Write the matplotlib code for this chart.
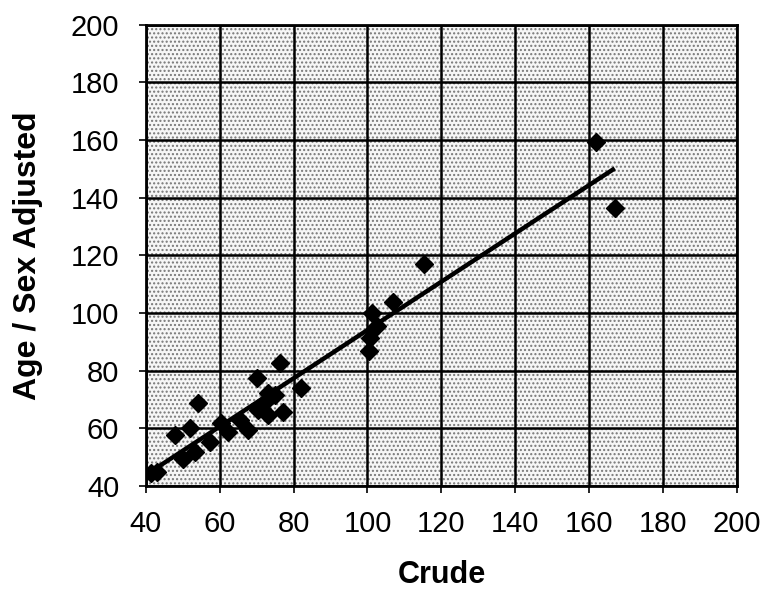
import numpy as np
import matplotlib.pyplot as plt

plt.rcParams["font.family"] = ["Liberation Sans", "DejaVu Sans"]
plt.rcParams["hatch.linewidth"] = 1.0

# crude vs age/sex adjusted rates
crude = [41.5, 43.0, 47.8, 50.1, 51.9, 53.3, 54.1, 57.3, 60.5, 62.3,
         65.4, 67.7, 70.4, 70.0, 72.7, 73.1, 73.1, 74.9, 76.3, 77.2,
         82.1, 100.3, 100.6, 101.1, 102.5, 106.8, 115.4, 161.7, 166.9]
adjusted = [44.5, 45.0, 57.7, 49.3, 60.0, 51.9, 68.8, 55.4, 61.8, 58.9,
            62.9, 59.4, 66.4, 77.4, 69.9, 72.2, 64.7, 71.5, 82.6, 65.8,
            73.9, 87.0, 91.5, 100.0, 95.5, 104.0, 117.0, 159.5, 136.5]

ticks = [40, 60, 80, 100, 120, 140, 160, 180, 200]

x = np.array(crude)
y = np.array(adjusted)
slope, intercept = np.polyfit(x, y, 1)
xs = np.array([x.min(), x.max()])

fig = plt.figure(figsize=(7.63, 5.90), dpi=100)
ax = fig.add_axes([0.191, 0.176, 0.775, 0.782])
ax.set_facecolor("white")

# stippled plot area
ax.add_patch(plt.Rectangle((0, 0), 1, 1, transform=ax.transAxes,
                           facecolor="#f6f6f6", edgecolor="#777777",
                           hatch="....", linewidth=0, zorder=0))

ax.plot(xs, slope * xs + intercept, color="black", lw=3.2, zorder=3,
        solid_capstyle="butt")
ax.plot(x, y, linestyle="none", marker="D", markersize=9,
        color="black", zorder=4)

ax.set_xlim(40, 200)
ax.set_ylim(40, 200)
ax.set_xticks(ticks)
ax.set_yticks(ticks)
ax.grid(True, color="black", lw=1.8, zorder=1)
ax.set_axisbelow(True)
for sp in ax.spines.values():
    sp.set_linewidth(2)
    sp.set_zorder(5)

ax.tick_params(axis="both", labelsize=21, length=5, width=1.2,
               direction="out")
ax.tick_params(axis="x", pad=12)
ax.tick_params(axis="y", pad=14)
ax.set_xlabel("Crude", fontsize=22, fontweight="bold", labelpad=16)
ax.set_ylabel("Age / Sex Adjusted", fontsize=23, fontweight="bold",
              labelpad=20)

fig.savefig("out.png", dpi=100)
